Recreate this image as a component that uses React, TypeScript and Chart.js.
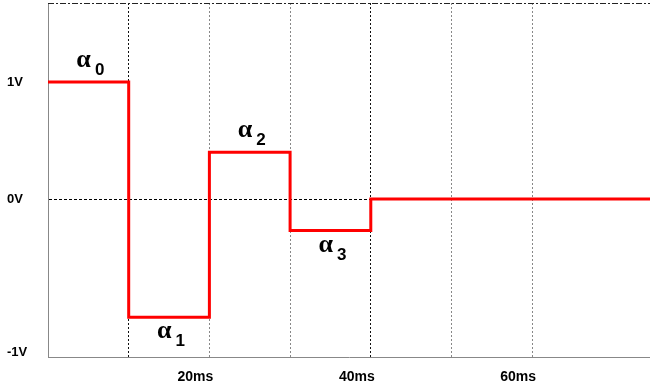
import React, { useEffect, useRef } from "react";
import { Chart, registerables } from "chart.js";

Chart.register(...registerables);

// Step waveform: level starting at each time (ms)
const timesMs = [0, 10, 20, 30, 40, 74.6];
const voltages = [1, -1.01, 0.4, -0.27, 0, 0];
const coefSubscripts = ["0", "1", "2", "3"];

// Axes
const xGridMs = [10, 20, 30, 40, 50, 60];
const xTickLabels = ["", "20ms", "", "40ms", "", "60ms"];
const yTickValues = [-1.31, 0, 1];
const yTickLabels = ["-1V", "0V", "1V"];

const alphaPlugin = {
  id: "alphaLabels",
  afterDatasetsDraw(chart: any) {
    const ctx = chart.ctx;
    const xs = chart.scales.x;
    const ys = chart.scales.y;
    ctx.save();
    ctx.fillStyle = "#000";
    ctx.textBaseline = "alphabetic";
    ctx.textAlign = "left";
    coefSubscripts.forEach((sub, i) => {
      const x0 = xs.getPixelForValue(timesMs[i]);
      const x1 = xs.getPixelForValue(timesMs[i + 1]);
      const cx = (x0 + x1) / 2;
      const y = ys.getPixelForValue(voltages[i]);
      const above = voltages[i] >= 0;
      ctx.font = "bold 26px 'Liberation Serif', serif";
      const wA = ctx.measureText("α").width;
      ctx.font = "bold 17px 'Liberation Sans', Arial, sans-serif";
      const wS = ctx.measureText(sub).width;
      const gap = 4;
      const start = cx - (wA + gap + wS) / 2 + 2;
      const yb = above ? y - 15 : y + 21;
      ctx.font = "bold 26px 'Liberation Serif', serif";
      ctx.fillText("α", start, yb);
      ctx.font = "bold 17px 'Liberation Sans', Arial, sans-serif";
      ctx.fillText(sub, start + wA + gap, yb + 8);
    });
    ctx.restore();
  },
};

const framePlugin = {
  id: "topFrame",
  afterDraw(chart: any) {
    const { ctx, chartArea } = chart;
    ctx.save();
    ctx.strokeStyle = "#222";
    ctx.lineWidth = 1;
    ctx.setLineDash([6, 2, 2, 2]);
    ctx.beginPath();
    ctx.moveTo(chartArea.left, chartArea.top + 0.5);
    ctx.lineTo(chartArea.right, chartArea.top + 0.5);
    ctx.stroke();
    ctx.restore();
  },
};

export default function App() {
  const ref = useRef<HTMLCanvasElement | null>(null);

  useEffect(() => {
    if (!ref.current) return;
    const chart = new Chart(ref.current, {
      type: "line",
      data: {
        datasets: [
          {
            data: timesMs.map((t, i) => ({ x: t, y: voltages[i] })),
            borderColor: "#ff0000",
            borderWidth: 3,
            stepped: "before",
            pointRadius: 0,
            fill: false,
          },
        ],
      },
      options: {
        animation: false,
        responsive: true,
        maintainAspectRatio: false,
        layout: { padding: { top: 3, left: 7, right: 0, bottom: 0 } },
        plugins: {
          legend: { display: false },
          tooltip: { enabled: false },
        },
        scales: {
          x: {
            type: "linear",
            min: 0,
            max: 74.6,
            afterBuildTicks: (scale: any) => {
              scale.ticks = xGridMs.map((v) => ({ value: v }));
            },
            afterFit: (scale: any) => {
              scale.height = 28;
              scale.paddingLeft = 0;
              scale.paddingRight = 0;
            },
            grid: {
              color: (c: any) =>
                c.tick && (c.tick.value === 10 || c.tick.value === 40) ? "#111" : "#888",
              lineWidth: 1,
              drawTicks: false,
            },
            border: { display: true, color: "#888", dash: [2, 2], width: 1 },
            ticks: {
              autoSkip: false,
              maxRotation: 0,
              padding: 12,
              labelOffset: -14,
              color: "#000",
              font: { family: "'Liberation Sans', Arial, sans-serif", size: 14, weight: "bold" },
              callback: (_v: any, i: number) => xTickLabels[i],
            },
          },
          y: {
            type: "linear",
            min: -1.35,
            max: 1.675,
            afterBuildTicks: (scale: any) => {
              scale.ticks = yTickValues.map((v) => ({ value: v }));
            },
            afterFit: (scale: any) => {
              scale.width = 41;
              scale.paddingTop = 0;
              scale.paddingBottom = 0;
            },
            grid: {
              color: (c: any) => (c.tick && c.tick.value === 0 ? "#000" : "rgba(0,0,0,0)"),
              lineWidth: 1,
              drawTicks: false,
            },
            border: { display: true, color: "#888", dash: [3, 2], width: 1 },
            ticks: {
              crossAlign: "far",
              color: "#000",
              font: { family: "'Liberation Sans', Arial, sans-serif", size: 13, weight: "bold" },
              callback: (_v: any, i: number) => yTickLabels[i],
            },
          },
        },
      },
      plugins: [alphaPlugin, framePlugin],
    } as any);
    return () => chart.destroy();
  }, []);

  return (
    <div
      style={{
        position: "absolute",
        left: 0,
        top: 0,
        width: 650,
        height: 385,
        background: "#fff",
      }}
    >
      <canvas ref={ref} />
    </div>
  );
}
